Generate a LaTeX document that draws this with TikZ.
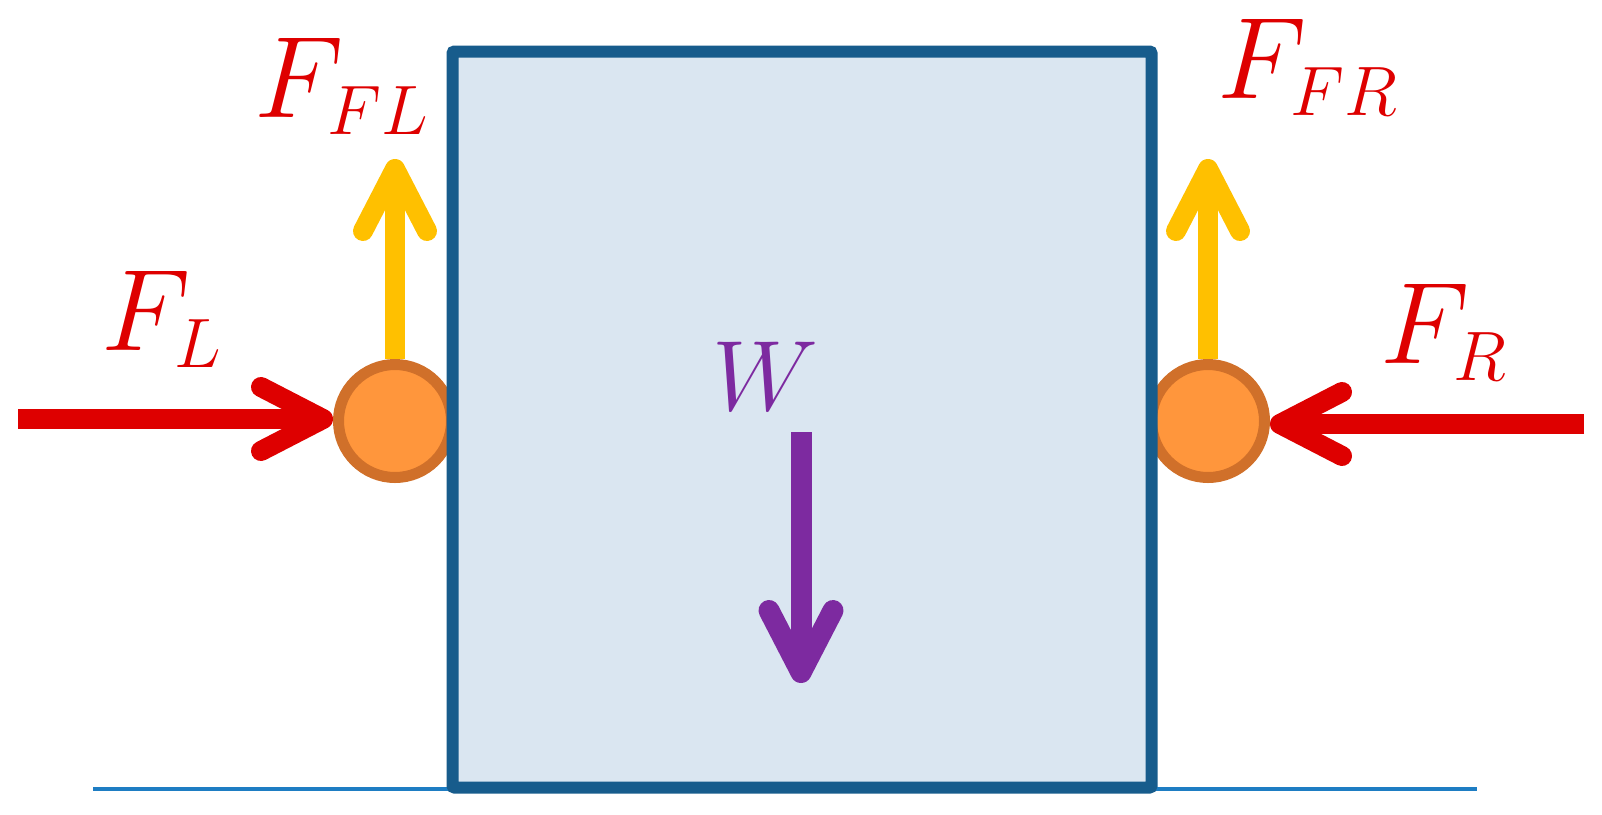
\RequirePackage{fix-cm}
\documentclass[tikz,border=0pt]{standalone}
\usetikzlibrary{arrows.meta,positioning}
\DeclareMathSizes{116}{116}{70}{58}
\definecolor{boxfill}{RGB}{218,230,241}
\definecolor{boxline}{RGB}{23,92,140}
\definecolor{groundline}{RGB}{30,125,195}
\definecolor{rollerfill}{RGB}{255,150,60}
\definecolor{rollerline}{RGB}{208,112,42}
\definecolor{forcered}{RGB}{222,0,0}
\definecolor{frictionyellow}{RGB}{255,192,0}
\definecolor{weightpurple}{RGB}{125,42,160}
\tikzstyle{roller}=[circle, draw=rollerline, fill=rollerfill, line width=11pt, minimum size=113pt, inner sep=0]
\tikzstyle{force}=[line width=20pt, -{Straight Barb[round,length=62pt,width=64pt]}]
\tikzstyle{lbl}=[inner sep=0, anchor=base west, font=\fontsize{116}{120}\selectfont]

\begin{document}
\begin{tikzpicture}[x=1pt,y=-1pt]
        \useasboundingbox (0,0) rectangle (1602,814);

% Ground
        \coordinate (g1) at (93,789);
        \coordinate (g2) at (1477,789);
        \draw[line width=4pt, groundline] (g1) -- (g2);

        \node[roller] (rollerL) at (395,421) {};
        \node[roller] (rollerR) at (1208,421) {};

        \node[draw=boxline,
            fill=boxfill,
            line width=12pt,
            rounded corners=2pt,
            minimum width=699pt,
            minimum height=736pt] (block) at (802,419.5) {};

% Labels
        \node[lbl, text=forcered] (labelFL) at (254,117) {$F_{FL}$};
        \node[lbl, text=forcered] (labelL) at (101,350) {$F_{L}$};
        \node[lbl, text=forcered] (labelFR) at (1217,98) {$F_{FR}$};
        \node[lbl, text=forcered] (labelR) at (1380,363) {$F_{R}$};
        \node[lbl, text=weightpurple,
            font=\fontsize{100}{110}\selectfont] (labelW) at (712,410) {$W$};

% Arrows
        \coordinate (startL) at (18,419);
        \coordinate (startR) at (1584,424);
        \coordinate (headFL) at (395,159);
        \coordinate (headFR) at (1208,159);
        \coordinate (tailW) at (801,432);
        \coordinate (headW) at (801,683);

        \draw[force, forcered] (startL) -- (startL -| rollerL.west);
        \draw[force, forcered] (startR) -- (startR -| rollerR.east);
        \draw[force, frictionyellow] (rollerL.north) -- (headFL);
        \draw[force, frictionyellow] (rollerR.north) -- (headFR);
        \draw[force, weightpurple, line width=21pt] (tailW) -- (headW);

\end{tikzpicture}
\end{document}
